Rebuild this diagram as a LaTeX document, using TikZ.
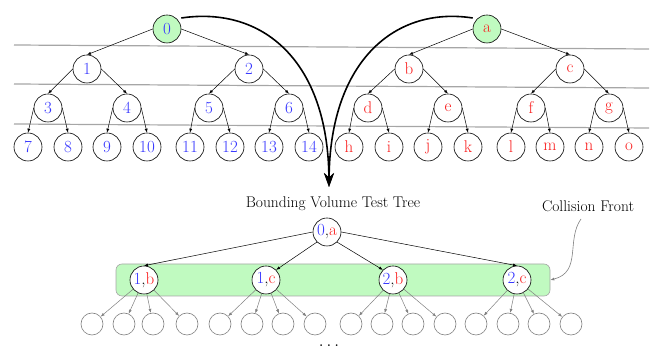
\documentclass[tikz,border=0pt]{standalone}
\usetikzlibrary{arrows.meta}
\definecolor{nblue}{RGB}{55,55,255}
\definecolor{nred}{RGB}{250,30,30}
\definecolor{ngreen}{RGB}{192,250,192}
\begin{document}
\begin{tikzpicture}[x=1pt,y=-1pt,
  tn/.style={circle,draw,line width=0.6pt,minimum size=28pt,inner sep=0pt,font=\fontsize{17}{17}\selectfont,fill=white},
  bl/.style={tn,text=nblue},
  rd/.style={tn,text=nred},
  rootn/.style={fill=ngreen},
  ed/.style={-{Latex[length=4pt,width=3pt]},line width=0.5pt},
  ged/.style={-{Latex[length=4pt,width=3pt]},line width=0.5pt,gray},
  leafg/.style={circle,draw=gray,line width=0.6pt,minimum size=22pt,inner sep=0pt},
  lvl/.style={gray!70,line width=1.2pt},
  big/.style={line width=1.6pt,-{Stealth[length=14pt,width=10pt]}},
  lab/.style={font=\fontsize{15.5}{16}\selectfont}]
\useasboundingbox (0,0) rectangle (657,352);
% level lines
\draw[lvl] (14,45) -- (649,49);
\draw[lvl] (14,84) -- (649,88);
\draw[lvl] (14,124) -- (649,128);
% left tree
\node[bl,rootn] (n0) at (167,29) {0};
\node[bl] (n1) at (87,69) {1};
\node[bl] (n2) at (249,69) {2};
\node[bl] (n3) at (48,108) {3};
\node[bl] (n4) at (127,108) {4};
\node[bl] (n5) at (209,108) {5};
\node[bl] (n6) at (289,108) {6};
\node[bl] (n7) at (28,147) {7};
\node[bl] (n8) at (68,147) {8};
\node[bl] (n9) at (107,147) {9};
\node[bl] (n10) at (147,147) {10};
\node[bl] (n11) at (190,147) {11};
\node[bl] (n12) at (230,147) {12};
\node[bl] (n13) at (269,147) {13};
\node[bl] (n14) at (309,147) {14};
% right tree
\node[rd,rootn] (na) at (487,29) {a};
\node[rd] (nb) at (409,69) {b};
\node[rd] (nc) at (570,69) {c};
\node[rd] (nd) at (368,108) {d};
\node[rd] (ne) at (448,108) {e};
\node[rd] (nf) at (531,108) {f};
\node[rd] (ng) at (609,108) {g};
\node[rd] (nh) at (349,147) {h};
\node[rd] (ni) at (389,147) {i};
\node[rd] (nj) at (428,147) {j};
\node[rd] (nk) at (468,147) {k};
\node[rd] (nl) at (511,147) {l};
\node[rd] (nm) at (550,147) {m};
\node[rd] (nn) at (589,147) {n};
\node[rd] (no) at (629,147) {o};
\foreach \p/\l/\r in {n0/n1/n2,n1/n3/n4,n2/n5/n6,n3/n7/n8,n4/n9/n10,n5/n11/n12,n6/n13/n14,
                      na/nb/nc,nb/nd/ne,nc/nf/ng,nd/nh/ni,ne/nj/nk,nf/nl/nm,ng/nn/no}{
  \draw[ed] (\p.west) -- (\l.north);
  \draw[ed] (\p.east) -- (\r.north);
}
% big merging arrows
\coordinate (tip) at (329,187);
\draw[big] (n0.east) ++(0,-11) .. controls (262,6) and (328,60) .. (tip);
\draw[big] (na.west) ++(0,-11) .. controls (396,6) and (330,60) .. (tip);
% labels
\node[lab] (bvtt) at (333,204) {Bounding Volume Test Tree};
\node[lab] (cf) at (588,206) {Collision Front};
% collision front band
\node[draw=gray!70,line width=0.6pt,fill=ngreen,rounded corners=6pt,minimum width=434pt,minimum height=32pt,inner sep=0pt] (band) at (333,280) {};
% bottom tree
\node[tn] (r) at (327,232) {\textcolor{nblue}{0},\textcolor{nred}{a}};
\node[tn] (b1) at (144,280) {\textcolor{nblue}{1},\textcolor{nred}{b}};
\node[tn] (c1) at (266,280) {\textcolor{nblue}{1},\textcolor{nred}{c}};
\node[tn] (b2) at (393,280) {\textcolor{nblue}{2},\textcolor{nred}{b}};
\node[tn] (c2) at (517,280) {\textcolor{nblue}{2},\textcolor{nred}{c}};
\draw[ed] (r.west) -- (b1.north);
\draw[ed] (r.south west) -- (c1.north east);
\draw[ed] (r.south east) -- (b2.north west);
\draw[ed] (r.east) -- (c2.north);
% gray children
\foreach \x [count=\i] in {92,124,153,187,220,252,283,315,351,382,413,445,476,508,539,571}{
  \node[leafg] (g\i) at (\x,324) {};
}
\foreach \p/\a/\b/\c/\d in {b1/1/2/3/4,c1/5/6/7/8,b2/9/10/11/12,c2/13/14/15/16}{
  \foreach \k in {\a,\b,\c,\d}{
    \draw[ged] (\p) -- (g\k);
  }
}
% collision front pointer
\draw[gray,line width=0.6pt,-{Latex[length=4pt,width=3pt]}] (581,219) .. controls (566,240) and (582,272) .. (band.east);
% ellipsis
\node[font=\bfseries\fontsize{12}{12}\selectfont] (dots) at (329,346) {.\hspace{4pt}.\hspace{4pt}.};
\end{tikzpicture}
\end{document}
